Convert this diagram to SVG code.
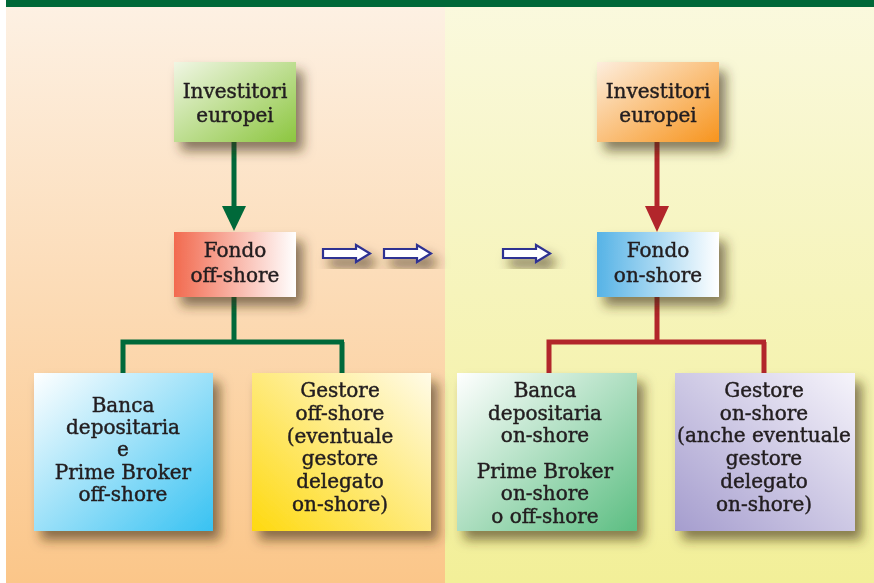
<svg xmlns="http://www.w3.org/2000/svg" width="874" height="583" viewBox="0 0 874 583">
<defs>
<linearGradient id="bgL" x1="0" y1="0" x2="0" y2="1"><stop offset="0" stop-color="#fdf1e4"/><stop offset="1" stop-color="#fbc689"/></linearGradient>
<linearGradient id="bgR" x1="0" y1="0" x2="0" y2="1"><stop offset="0" stop-color="#faf9de"/><stop offset="1" stop-color="#f2ef98"/></linearGradient>
<linearGradient id="gGreen" x1="0" y1="0" x2="1" y2="1"><stop offset="0" stop-color="#f0f6e4"/><stop offset="1" stop-color="#8cc63f"/></linearGradient>
<linearGradient id="gOrange" x1="0" y1="0" x2="1" y2="1"><stop offset="0" stop-color="#fdeede"/><stop offset="1" stop-color="#f7941d"/></linearGradient>
<linearGradient id="gRed" x1="0" y1="0" x2="1" y2="0"><stop offset="0" stop-color="#f26a4f"/><stop offset="1" stop-color="#ffffff"/></linearGradient>
<linearGradient id="gBlue" x1="0" y1="0" x2="1" y2="0"><stop offset="0" stop-color="#56b3e6"/><stop offset="1" stop-color="#ffffff"/></linearGradient>
<linearGradient id="gCyan" x1="0" y1="0" x2="1" y2="1"><stop offset="0" stop-color="#ffffff"/><stop offset="1" stop-color="#38c2f2"/></linearGradient>
<linearGradient id="gYellow" x1="0" y1="1" x2="1" y2="0"><stop offset="0" stop-color="#fed90f"/><stop offset="1" stop-color="#fffbe8"/></linearGradient>
<linearGradient id="gMint" x1="0" y1="0" x2="1" y2="1"><stop offset="0" stop-color="#ffffff"/><stop offset="1" stop-color="#5cbe82"/></linearGradient>
<linearGradient id="gPurple" x1="0" y1="1" x2="1" y2="0"><stop offset="0" stop-color="#a59dce"/><stop offset="1" stop-color="#f6f4fb"/></linearGradient>
<filter id="sh" x="-20%" y="-20%" width="150%" height="160%"><feDropShadow dx="7" dy="9" stdDeviation="6" flood-color="#3b2a12" flood-opacity="0.6"/></filter>
<g id="blk"><path d="M0,4 H33 V0 L47,8.5 L33,17 V13 H0 Z"/></g>
</defs>
<style>
.t{font-family:"DejaVu Serif","Liberation Serif",serif;font-size:20px;fill:#231f20;stroke:#231f20;stroke-width:0.45;text-anchor:middle}
.gl{stroke:#00693a;stroke-width:5;fill:none}
.rl{stroke:#b2262b;stroke-width:5;fill:none}
.ar{fill:#ffffff;stroke:#2e3192;stroke-width:2.2;stroke-linejoin:miter}
</style>
<rect x="0" y="0" width="874" height="583" fill="#ffffff"/>
<rect x="6" y="0" width="439" height="583" fill="url(#bgL)"/>
<rect x="445" y="0" width="429" height="583" fill="url(#bgR)"/>
<rect x="6" y="0" width="868" height="7" fill="#006838"/>

<g id="connectors">
<path class="gl" d="M234,142 V209"/>
<polygon points="222,206 246,206 234,231" fill="#00693a"/>
<path class="gl" d="M234,297 V343"/>
<path class="gl" d="M123,373 V342 H344 M342,342 V373"/>
<path class="rl" d="M657,142 V209"/>
<polygon points="645,206 669,206 657,232" fill="#b2262b"/>
<path class="rl" d="M657,297 V343"/>
<path class="rl" d="M549,373 V342 H766 M764,342 V373"/>
<g filter="url(#sh)">
<use href="#blk" class="ar" x="323" y="245"/>
<use href="#blk" class="ar" x="384" y="245"/>
<use href="#blk" class="ar" x="503" y="245"/>
</g>
</g>

<g id="inv-eu-l" filter="url(#sh)">
<rect x="174" y="62" width="122" height="80" fill="url(#gGreen)"/>
<text class="t" x="235" y="98">Investitori</text>
<text class="t" x="235" y="122">europei</text>
</g>
<g id="fondo-off" filter="url(#sh)">
<rect x="174" y="232" width="122" height="65" fill="url(#gRed)"/>
<text class="t" x="235" y="257">Fondo</text>
<text class="t" x="235" y="282">off-shore</text>
</g>
<g id="banca-off" filter="url(#sh)">
<rect x="34" y="373" width="179" height="158" fill="url(#gCyan)"/>
<text class="t" x="123" y="412">Banca</text>
<text class="t" x="123" y="434">depositaria</text>
<text class="t" x="123" y="456">e</text>
<text class="t" x="123" y="479">Prime Broker</text>
<text class="t" x="123" y="501">off-shore</text>
</g>
<g id="gestore-off" filter="url(#sh)">
<rect x="252" y="373" width="179" height="158" fill="url(#gYellow)"/>
<text class="t" x="340" y="397">Gestore</text>
<text class="t" x="340" y="420">off-shore</text>
<text class="t" x="340" y="443">(eventuale</text>
<text class="t" x="340" y="465">gestore</text>
<text class="t" x="340" y="488">delegato</text>
<text class="t" x="340" y="511">on-shore)</text>
</g>

<g id="inv-eu-r" filter="url(#sh)">
<rect x="597" y="62" width="122" height="80" fill="url(#gOrange)"/>
<text class="t" x="658" y="98">Investitori</text>
<text class="t" x="658" y="122">europei</text>
</g>
<g id="fondo-on" filter="url(#sh)">
<rect x="597" y="232" width="122" height="65" fill="url(#gBlue)"/>
<text class="t" x="658" y="257">Fondo</text>
<text class="t" x="658" y="282">on-shore</text>
</g>
<g id="banca-on" filter="url(#sh)">
<rect x="457" y="373" width="180" height="158" fill="url(#gMint)"/>
<text class="t" x="545" y="397">Banca</text>
<text class="t" x="545" y="420">depositaria</text>
<text class="t" x="545" y="442">on-shore</text>
<text class="t" x="545" y="478">Prime Broker</text>
<text class="t" x="545" y="500">on-shore</text>
<text class="t" x="545" y="523">o off-shore</text>
</g>
<g id="gestore-on" filter="url(#sh)">
<rect x="675" y="373" width="180" height="158" fill="url(#gPurple)"/>
<text class="t" x="764" y="397">Gestore</text>
<text class="t" x="764" y="420">on-shore</text>
<text class="t" x="764" y="442">(anche eventuale</text>
<text class="t" x="764" y="465">gestore</text>
<text class="t" x="764" y="488">delegato</text>
<text class="t" x="764" y="511">on-shore)</text>
</g>
</svg>
